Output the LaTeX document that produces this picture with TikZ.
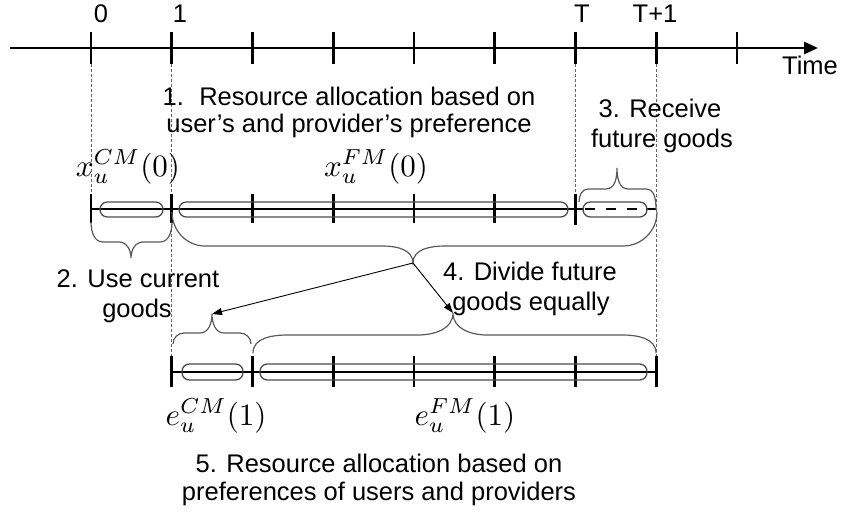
\documentclass[tikz,border=0pt]{standalone}
\usepackage{fontspec}
\setmainfont{Liberation Sans}
\usetikzlibrary{arrows.meta}
\begin{document}
\begin{tikzpicture}[x=1pt,y=-1pt,
  lbl/.style={font=\fontsize{25.5}{30}\selectfont, inner sep=0pt, anchor=base},
  mth/.style={scale=3.1, inner sep=0pt, anchor=base},
  axisline/.style={line width=2.6pt},
  ticklw/.style={line width=2.6pt},
  capsule/.style={draw=black!70, line width=1.3pt, rounded corners=7.4pt},
  bracepath/.style={draw=black!65, line width=1.2pt},
  guide/.style={draw=black!60, line width=0.8pt, dash pattern=on 3pt off 2pt},
  pointer/.style={line width=0.9pt, -{Triangle[length=10pt,width=7pt]}}]
\useasboundingbox (0,0) rectangle (841,524);

% tick positions
\foreach \i in {0,...,8}{
  \coordinate (t\i) at ({91+80.75*\i},48);
  \coordinate (m\i) at ({91+80.75*\i},209);
  \coordinate (b\i) at ({91+80.75*\i},372);
}

% top time axis
\coordinate (axs) at (10,48);
\coordinate (axe) at (818,48);
\draw[axisline,-{Triangle[length=14pt,width=12pt]}] (axs) -- (axe);
\foreach \i in {0,...,8}
  \draw[ticklw] ([yshift=16pt]t\i) -- ([yshift=-16pt]t\i);

\node[lbl] (l0) at (101,23) {0};
\node[lbl] (l1) at (180,23) {1};
\node[lbl] (lT) at (582,23) {T};
\node[lbl] (lT1) at (655,23) {T+1};
\node[lbl] (ltime) at (810,75) {Time};

% guides
\draw[guide] ([yshift=-16pt]t0) -- ([yshift=15pt]m0);
\draw[guide] ([yshift=-16pt]t1) -- ([yshift=15pt]b1);
\draw[guide] ([yshift=-16pt]t6) -- ([yshift=15pt]m6);
\draw[guide] ([yshift=-16pt]t7) -- ([yshift=15pt]b7);

% middle line
\coordinate (mc1) at (584,209);
\coordinate (mc2) at (585,209);
\coordinate (mc3) at (640,209);
\coordinate (mc4) at (646,209);
\draw[axisline] (m0) -- (mc1);
\draw[axisline, dash pattern=on 10pt off 11pt] (mc2) -- (mc3);
\draw[axisline] (mc4) -- (m7);
\foreach \i in {0,...,5}
  \draw[ticklw] ([yshift=15pt]m\i) -- ([yshift=-14pt]m\i);
\draw[ticklw] ([yshift=15pt]m6) -- ([yshift=-16pt]m6);

\draw[capsule] (100,202) rectangle (163,217);
\draw[capsule] (179,202) rectangle (568,217);
\draw[capsule] (583,202) rectangle (647,217);

% bottom line
\draw[axisline] (b1) -- (b7);
\foreach \i in {1,...,7}
  \draw[ticklw] ([yshift=16pt]b\i) -- ([yshift=-15pt]b\i);
\draw[capsule] (182,364) rectangle (243,380);
\draw[capsule] (260,364) rectangle (647,380);

% braces
\coordinate (tipA) at (131,258);
\coordinate (tipB) at (413,263);
\coordinate (tipC) at (212,314);
\coordinate (tipD) at (453,313);
\coordinate (tipE) at (617,168);

\draw[bracepath] (91,222) to[out=-90,in=180] (103,242) -- (119,242)
  to[out=0,in=90] (tipA) to[out=90,in=180] (143,242) -- (160,242)
  to[out=0,in=-90] (172,222);
\draw[bracepath] (172,212) to[out=-90,in=180] (205,246) -- (383,246)
  to[out=0,in=90] (tipB) to[out=90,in=180] (445,246) -- (623,246)
  to[out=0,in=-90] (657,212);
\draw[bracepath] (173,344) to[out=90,in=180] (184,333) -- (200,333)
  to[out=0,in=-90] (tipC) to[out=-90,in=180] (224,333) -- (240,333)
  to[out=0,in=90] (251,344);
\draw[bracepath] (253,353) to[out=90,in=180] (288,335) -- (418,335)
  to[out=0,in=-90] (tipD) to[out=-90,in=180] (487,335) -- (622,335)
  to[out=0,in=90] (656,353);
\draw[bracepath] (579,202) to[out=90,in=180] (588,189) -- (606,189)
  to[out=0,in=-90] (tipE) to[out=-90,in=180] (628,189) -- (646,189)
  to[out=0,in=90] (656,209);

% pointers
\draw[pointer] (tipB) -- (tipC);
\draw[pointer] (tipB) -- (tipD);

% texts
\node[lbl] (s1a) at (349,106) {1.\hspace{0.6em}Resource allocation based on};
\node[lbl] (s1b) at (349,133) {user's and provider's preference};
\node[lbl] (s3a) at (660,118) {3. Receive};
\node[lbl] (s3b) at (662,148) {future goods};
\node[lbl] (s2a) at (138,287) {2. Use current};
\node[lbl] (s2b) at (137,317) {goods};
\node[lbl] (s4a) at (530,280) {4. Divide future};
\node[lbl] (s4b) at (531,310) {goods equally};
\node[lbl] (s5a) at (379,472) {5. Resource allocation based on};
\node[lbl] (s5b) at (379,500) {preferences of users and providers};

% math labels
\node[mth] (xcm) at (128,176) {$x_u^{CM}(0)$};
\node[mth] (xfm) at (376,176) {$x_u^{FM}(0)$};
\node[mth] (ecm) at (216,425) {$e_u^{CM}(1)$};
\node[mth] (efm) at (465,425) {$e_u^{FM}(1)$};
\end{tikzpicture}
\end{document}
